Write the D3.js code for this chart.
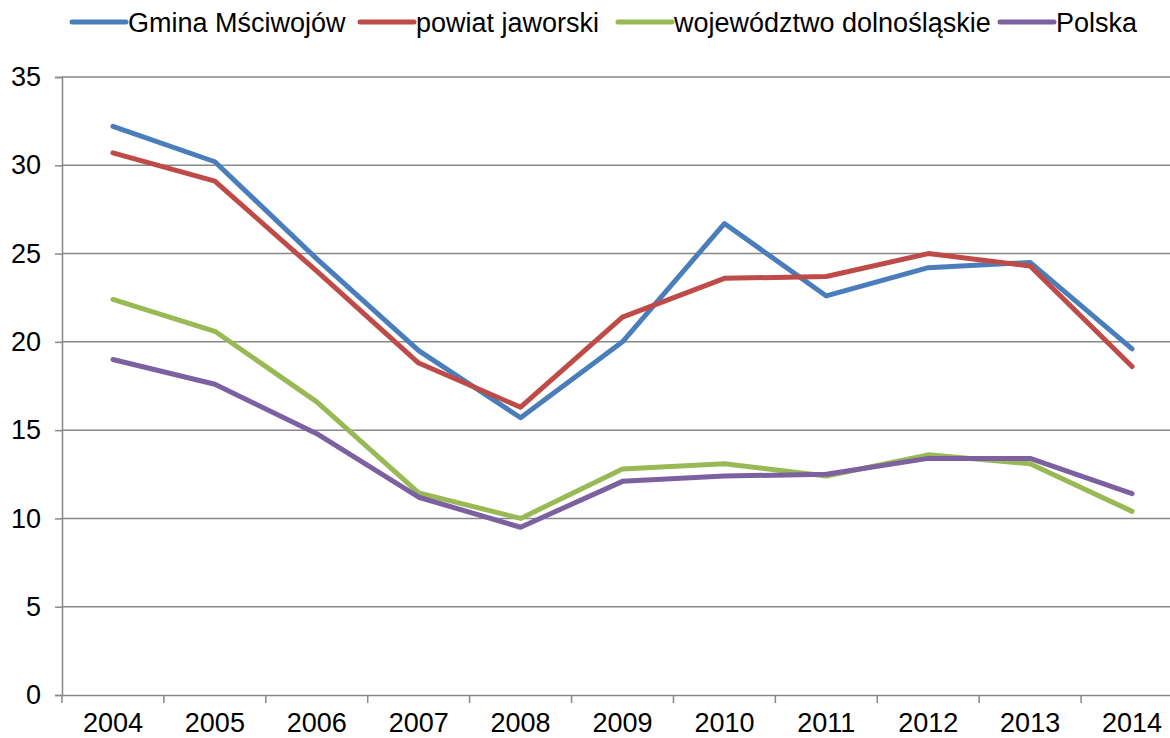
<!DOCTYPE html>
<html><head><meta charset="utf-8">
<script src="https://cdn.jsdelivr.net/npm/d3@7"></script>
<style>body{margin:0;background:#fff;overflow:hidden}svg{display:block}text{font-family:"Liberation Sans",Arial,sans-serif;fill:#000}</style>
</head><body><svg id="c" width="1170" height="738"></svg>
<script>
const years = ["2004","2005","2006","2007","2008","2009","2010","2011","2012","2013","2014"];
const seriesNames = ["Gmina Mściwojów","powiat jaworski","województwo dolnośląskie","Polska"];
const gmina = [32.2,30.2,24.7,19.5,15.7,20.0,26.7,22.6,24.2,24.5,19.6];
const powiat = [30.7,29.1,24.0,18.8,16.3,21.4,23.6,23.7,25.0,24.3,18.6];
const wojewodztwo = [22.4,20.6,16.6,11.45,10.0,12.8,13.1,12.4,13.6,13.1,10.4];
const polska = [19.0,17.6,14.8,11.2,9.5,12.1,12.4,12.5,13.4,13.4,11.4];
const yTicks = [0,5,10,15,20,25,30,35];
const colors = ["#4a7ebb","#be4b48","#98b954","#7d60a0"];

(function(){
const data = [gmina,powiat,wojewodztwo,polska];
const svg = d3.select("#c");
const mL = 62, mR = 1183, mT = 77, mB = 695;
const fs = 27;
const x = d3.scaleBand().domain(years).range([mL,mR]);
const y = d3.scaleLinear().domain([0,35]).range([mB,mT]);

svg.append("g").selectAll("line").data(yTicks.filter(d=>d>0)).join("line")
  .attr("x1",mL).attr("x2",mR).attr("y1",d=>y(d)).attr("y2",d=>y(d))
  .attr("stroke","#888").attr("stroke-width",1.5);

const ya = svg.append("g").attr("transform",`translate(${mL},0)`)
  .call(d3.axisLeft(y).tickValues(yTicks).tickSize(7).tickPadding(14));
ya.select(".domain").attr("stroke","#888").attr("stroke-width",1.5);
ya.selectAll(".tick line").attr("stroke","#888").attr("stroke-width",1.5);
ya.selectAll("text").attr("font-size",fs).attr("font-family","Liberation Sans, Arial, sans-serif").attr("fill","#000");

const xa = svg.append("g").attr("transform",`translate(0,${mB})`)
  .call(d3.axisBottom(x).tickSize(0).tickPadding(18));
xa.select(".domain").attr("stroke","#888").attr("stroke-width",1.5);
xa.selectAll("text").attr("font-size",fs).attr("font-family","Liberation Sans, Arial, sans-serif").attr("fill","#000");
svg.append("g").selectAll("line").data(years).join("line")
  .attr("x1",d=>x(d)).attr("x2",d=>x(d)).attr("y1",mB).attr("y2",mB+8)
  .attr("stroke","#888").attr("stroke-width",1.5);

const line = d3.line().x((d,i)=>x(years[i])+x.bandwidth()/2).y(d=>y(d));
svg.append("g").selectAll("path").data(data).join("path")
  .attr("d",line).attr("fill","none").attr("stroke",(d,i)=>colors[i])
  .attr("stroke-width",5).attr("stroke-linejoin","round").attr("stroke-linecap","round");

const legX = [72,360,618,1000];
const lg = svg.append("g").selectAll("g").data(seriesNames).join("g")
  .attr("transform",(d,i)=>`translate(${legX[i]},22)`);
lg.append("line").attr("x1",0).attr("x2",54).attr("y1",0).attr("y2",0)
  .attr("stroke",(d,i)=>colors[i]).attr("stroke-width",5).attr("stroke-linecap","round");
lg.append("text").attr("x",56).attr("y",10).attr("font-size",fs).text(d=>d);
})();
</script></body></html>
